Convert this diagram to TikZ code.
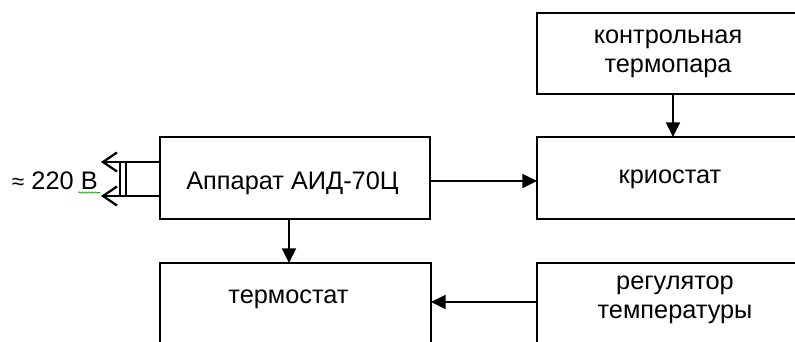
\documentclass[tikz,border=0pt]{standalone}
\usepackage{fontspec}
\setmainfont{Liberation Sans}
\usetikzlibrary{arrows.meta,calc,decorations.pathmorphing}

\begin{document}
\begin{tikzpicture}[x=0.75pt,y=-0.75pt,
  blk/.style={draw, line width=1.7pt, inner sep=0pt, outer sep=0pt},
  lbl/.style={inner sep=0pt, outer sep=0pt, align=center,
    font=\fontsize{19}{21.75}\selectfont},
  wire/.style={line width=1.7pt},
  arr/.style={line width=1.7pt, -{Triangle[length=11pt,width=10.5pt]}}]

\useasboundingbox (0,0) rectangle (795,342);
\clip (0,0) rectangle (795,342);

% blocks
\node[blk, minimum width=202.5pt, minimum height=61.5pt] (app) at (295,178) {};
\node[blk, minimum width=204pt, minimum height=60.75pt] (kt) at (673,53.5) {};
\node[blk, minimum width=204pt, minimum height=61.5pt] (krio) at (673,178) {};
\node[blk, minimum width=203.25pt, minimum height=72.75pt] (term) at (295.5,311.5) {};
\node[blk, minimum width=204pt, minimum height=72.75pt] (reg) at (673,311.5) {};

% labels
\node[lbl, anchor=base] (tapp) at (292.5,190) {Аппарат АИД-70Ц};
\node[lbl] (tkt) at (668,53.75) {контрольная\\термопара};
\node[lbl, anchor=base] (tkrio) at (670,183) {криостат};
\node[lbl, anchor=base] (tterm) at (288.5,303.5) {термостат};
\node[lbl] (treg) at (675,299.75) {регулятор\\температуры};
\node[lbl, anchor=base west] (tmains) at (12,189)
  {{\fontsize{17}{17}\selectfont ≈} 220 В};

% connectors
\coordinate (ya) at (0,181);
\coordinate (xa) at (289,0);
\coordinate (yr) at (0,302);
\draw[arr] (app.east |- ya) -- (krio.west |- ya);
\draw[arr] (kt.south) -- (krio.north);
\draw[arr] (app.south -| xa) -- (term.north -| xa);
\draw[arr] (reg.west |- yr) -- (term.east |- yr);

% mains plug
\coordinate (p1) at (103,162);
\coordinate (p2) at (103,196);
\draw[wire] (app.west |- p1) -- (p1);
\draw[wire] (app.west |- p2) -- (p2);
\draw[wire, line join=miter] ($(p1)+(14,-9.5)$) -- (p1) -- ($(p1)+(14,9.5)$);
\draw[wire, line join=miter] ($(p2)+(14,-9.5)$) -- (p2) -- ($(p2)+(14,9.5)$);
\draw[wire] (120,162) -- (120,196);
\draw[wire] (126,162) -- (126,196);

% spelling squiggle under the unit
\draw[green!60!black, line width=0.5pt,
  decorate, decoration={snake, amplitude=0.5pt, segment length=2.5pt}]
  (78,192.5) -- (100,192.5);
\end{tikzpicture}
\end{document}
